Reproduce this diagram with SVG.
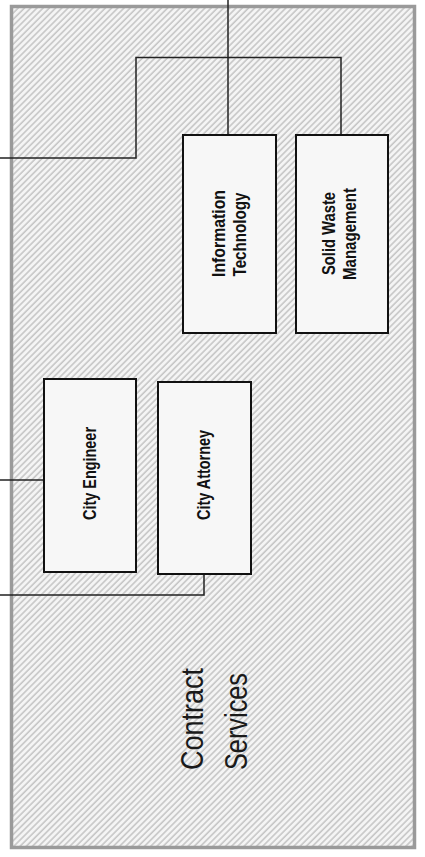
<svg xmlns="http://www.w3.org/2000/svg" width="425" height="857" viewBox="0 0 425 857">
  <defs>
    <!-- diagonal hatching for the contract services area -->
    <pattern id="hatch" width="4.4" height="4.4" patternUnits="userSpaceOnUse" patternTransform="rotate(45)">
      <rect width="4.4" height="4.4" fill="#f5f5f5"/>
      <line x1="1" y1="0" x2="1" y2="4.4" stroke="#c6c6c6" stroke-width="1.6"/>
    </pattern>
    <style>
      .frame { fill: url(#hatch); stroke: #9a9a9a; stroke-width: 3.5; }
      .box { fill: #f7f7f7; stroke: #111; stroke-width: 2; }
      .link { fill: none; stroke: #222; stroke-width: 1.5; }
      .label { font-family: "Liberation Sans Narrow", "Liberation Sans", Arial, sans-serif; font-weight: bold; font-size: 18.5px; fill: #111; text-anchor: middle; }
      .area { font-family: "Liberation Sans", Arial, sans-serif; font-size: 32px; fill: #1a1a1a; text-anchor: start; }
    </style>
  </defs>

  <rect id="white-bg" x="0" y="0" width="425" height="857" fill="#ffffff"/>

  <g id="contract-services">
    <rect class="frame" x="11.5" y="6.5" width="403" height="841"/>
    <text class="area" transform="rotate(-90)" x="-770" y="203" textLength="102" lengthAdjust="spacingAndGlyphs">Contract</text>
    <text class="area" transform="rotate(-90)" x="-770" y="247" textLength="97" lengthAdjust="spacingAndGlyphs">Services</text>
  </g>

  <g id="connectors">
    <polyline class="link" points="228,0 228,135"/>
    <polyline class="link" points="0,158 136,158 136,57.5 341,57.5 341,135"/>
    <polyline class="link" points="0,480 44,480"/>
    <polyline class="link" points="204,574 204,595 0,595"/>
  </g>

  <g id="information-technology">
    <rect class="box" x="183" y="135" width="93" height="198"/>
    <text class="label" transform="rotate(-90)" x="-233.5" y="225" textLength="87" lengthAdjust="spacingAndGlyphs">Information</text>
    <text class="label" transform="rotate(-90)" x="-234.5" y="246" textLength="84" lengthAdjust="spacingAndGlyphs">Technology</text>
  </g>

  <g id="solid-waste-management">
    <rect class="box" x="296" y="135" width="92" height="198"/>
    <text class="label" transform="rotate(-90)" x="-233.5" y="335" textLength="83" lengthAdjust="spacingAndGlyphs">Solid Waste</text>
    <text class="label" transform="rotate(-90)" x="-234" y="356" textLength="92" lengthAdjust="spacingAndGlyphs">Management</text>
  </g>

  <g id="city-engineer">
    <rect class="box" x="44" y="379" width="92" height="193"/>
    <text class="label" transform="rotate(-90)" x="-473.5" y="96" textLength="93" lengthAdjust="spacingAndGlyphs">City Engineer</text>
  </g>

  <g id="city-attorney">
    <rect class="box" x="158" y="382" width="93" height="192"/>
    <text class="label" transform="rotate(-90)" x="-475" y="210" textLength="90" lengthAdjust="spacingAndGlyphs">City Attorney</text>
  </g>
</svg>
